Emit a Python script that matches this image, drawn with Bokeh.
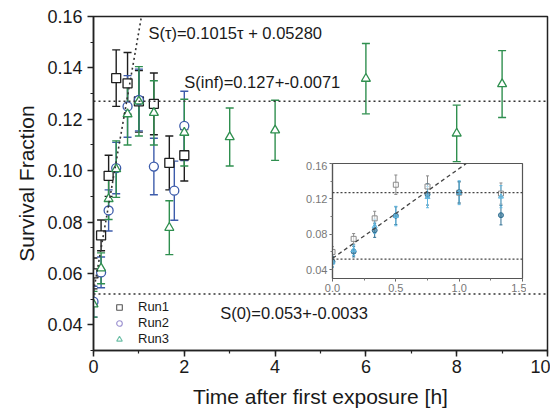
from bokeh.plotting import figure
from bokeh.models import (ColumnDataSource, Whisker, TeeHead, Span, Slope, Label,
                          Legend, LegendItem, SingleIntervalTicker, Range1d,
                          CustomJSTickFormatter)
from bokeh.embed import file_html
from bokeh.resources import INLINE

# ---------------- data ----------------
run1_t = [0.0, 0.167, 0.333, 0.5, 0.75, 1.0, 1.33, 1.67, 2.0]
run1_y = [0.060, 0.0748, 0.098, 0.136, 0.134, 0.127, 0.126, 0.103, 0.106]
run1_e = [0.006, 0.006, 0.008, 0.011, 0.012, 0.012, 0.012, 0.0105, 0.010]

run2_t = [0.0, 0.167, 0.333, 0.5, 0.75, 1.0, 1.33, 1.78, 2.0]
run2_y = [0.049, 0.0604, 0.0845, 0.101, 0.125, 0.1275, 0.1016, 0.0922, 0.1174]
run2_e = [0.006, 0.006, 0.008, 0.010, 0.012, 0.012, 0.011, 0.0115, 0.0135]

run3_t = [0.0, 0.167, 0.333, 0.5, 0.75, 1.0, 1.33, 1.67, 2.0, 3.0, 4.0, 6.0, 8.0, 9.0]
run3_y = [0.048, 0.062, 0.089, 0.1006, 0.122, 0.127, 0.1225, 0.0778, 0.1148,
          0.1131, 0.1157, 0.1358, 0.1145, 0.1337]
run3_e = [0.005, 0.006, 0.008, 0.011, 0.012, 0.0135, 0.0125, 0.0105, 0.013,
          0.0113, 0.0117, 0.0137, 0.011, 0.013]

fit_slope = 0.1015
fit_intercept = 0.0528
s_inf = 0.127
s_zero = 0.052

run_labels = ["Run1", "Run2", "Run3"]
text_fit = "S(\u03c4)=0.1015\u03c4 + 0.05280"
text_inf = "S(inf)=0.127+-0.0071"
text_zero = "S(0)=0.053+-0.0033"

FONT = "Liberation Sans"
C1, C2, C3 = "#1e1e1e", "#3d5cab", "#2f8f4f"
L1, L2, L3 = "#555555", "#9a8fcf", "#6fc0a8"
I1, I2, I3 = "#8a8a8a", "#2e6f92", "#5fb6e0"


def src(t, y, e):
    return ColumnDataSource(dict(t=t, y=y,
                                 lo=[a - b for a, b in zip(y, e)],
                                 hi=[a + b for a, b in zip(y, e)]))


runs = [(src(run1_t, run1_y, run1_e), C1, L1, I1, "square"),
        (src(run2_t, run2_y, run2_e), C2, L2, I2, "circle"),
        (src(run3_t, run3_y, run3_e), C3, L3, I3, "triangle")]

# ---------------- main figure ----------------
p = figure(width=550, height=416, x_range=Range1d(0, 10), y_range=Range1d(0.03, 0.16),
           output_backend="svg", toolbar_location=None,
           min_border_left=93, min_border_right=3, min_border_top=16, min_border_bottom=66)
p.grid.visible = False
p.outline_line_color = "#222222"
p.outline_line_width = 1.5
p.background_fill_color = "white"

p.xaxis.ticker = SingleIntervalTicker(interval=2, num_minor_ticks=2)
p.yaxis.ticker = SingleIntervalTicker(interval=0.02, num_minor_ticks=2)
p.yaxis.formatter = CustomJSTickFormatter(code="return tick.toFixed(2);")
p.xaxis.formatter = CustomJSTickFormatter(code="return tick.toFixed(0);")
for ax in (p.xaxis, p.yaxis):
    ax.axis_line_color = "#222222"
    ax.axis_line_width = 1.5
    ax.major_tick_line_color = "#222222"
    ax.major_tick_line_width = 1.5
    ax.minor_tick_line_color = "#222222"
    ax.minor_tick_line_width = 1.2
    ax.major_tick_in = 0
    ax.major_tick_out = 6
    ax.minor_tick_in = 0
    ax.minor_tick_out = 3
    ax.major_label_text_font = FONT
    ax.major_label_text_font_size = "18px"
    ax.major_label_text_color = "#1a1a1a"
    ax.axis_label_text_font = FONT
    ax.axis_label_text_font_size = "21px"
    ax.axis_label_text_font_style = "normal"
    ax.axis_label_text_color = "#1a1a1a"
p.xaxis.axis_label = "Time after first exposure [h]"
p.yaxis.axis_label = "Survival Fraction"
p.xaxis.major_label_standoff = 3
p.xaxis.axis_label_standoff = 9
p.yaxis.major_label_standoff = 5
p.yaxis.axis_label_standoff = 6

dot = dict(line_color="#333333", line_width=1.6, line_dash="2 3")
p.add_layout(Span(location=s_inf, dimension="width", **dot))
p.add_layout(Span(location=s_zero, dimension="width", **dot))
p.add_layout(Slope(gradient=fit_slope, y_intercept=fit_intercept, **dot))

for s, c, lc, ic, m in runs:
    w = Whisker(source=s, base="t", lower="lo", upper="hi", dimension="height",
                line_color=c, line_width=1.4,
                upper_head=TeeHead(size=8, line_color=c, line_width=1.4),
                lower_head=TeeHead(size=8, line_color=c, line_width=1.4))
    w.level = "underlay"
    p.add_layout(w)
    p.scatter("t", "y", source=s, marker=m, size=9, line_color=c, line_width=1.3,
              fill_color="white")

# legend-only glyphs (lighter, smaller markers as in the reference)
nan = float("nan")
leg_items = []
for (s, c, lc, ic, m), lab in zip(runs, run_labels):
    rr = p.scatter(x=[nan], y=[nan], marker=m, size=7, line_color=lc, line_width=1.1,
                   fill_color="white")
    leg_items.append(LegendItem(label=lab, renderers=[rr], index=0))
legend = Legend(items=leg_items, location=(19, 4), background_fill_alpha=0,
                border_line_alpha=0, label_text_font=FONT, label_text_font_size="13px",
                label_text_color="#1a1a1a", glyph_width=14, glyph_height=14,
                label_height=14, spacing=1, padding=0, margin=0, label_standoff=12)
p.add_layout(legend)

lab_kw = dict(text_font=FONT, text_font_size="16.5px", text_color="#1a1a1a",
              text_baseline="middle")
p.add_layout(Label(x=1.21, y=0.1534, text=text_fit, **lab_kw))
p.add_layout(Label(x=2.0, y=0.1347, text=text_inf, **lab_kw))
p.add_layout(Label(x=2.79, y=0.0447, text=text_zero, **lab_kw))

# ---------------- inset ----------------
ins = figure(width=224, height=137, x_range=Range1d(0, 1.5), y_range=Range1d(0.03, 0.16),
             output_backend="svg", toolbar_location=None,
             min_border_left=30, min_border_right=4, min_border_top=2, min_border_bottom=20)
ins.border_fill_alpha = 0
ins.background_fill_color = "white"
ins.grid.visible = False
ins.outline_line_color = "#555555"
ins.outline_line_width = 1.2
ins.xaxis.ticker = SingleIntervalTicker(interval=0.5, num_minor_ticks=2)
ins.yaxis.ticker = SingleIntervalTicker(interval=0.04, num_minor_ticks=2)
ins.xaxis.formatter = CustomJSTickFormatter(code="return tick.toFixed(1);")
ins.yaxis.formatter = CustomJSTickFormatter(code="return tick.toFixed(2);")
for ax in (ins.xaxis, ins.yaxis):
    ax.axis_line_color = "#555555"
    ax.axis_line_width = 1.2
    ax.major_tick_line_color = "#555555"
    ax.minor_tick_line_color = "#777777"
    ax.major_tick_in = 0
    ax.major_tick_out = 3
    ax.minor_tick_in = 0
    ax.minor_tick_out = 2
    ax.major_label_text_font = FONT
    ax.major_label_text_font_size = "11px"
    ax.major_label_text_color = "#777777"
    ax.major_label_standoff = 2
ins.styles = {"position": "absolute", "left": "302px", "top": "161px"}

idot = dict(line_color="#444444", line_width=1.3, line_dash="2 2")
ins.add_layout(Span(location=s_inf, dimension="width", **idot))
ins.add_layout(Span(location=s_zero, dimension="width", **idot))
ins.add_layout(Slope(gradient=fit_slope, y_intercept=fit_intercept,
                     line_color="#444444", line_width=1.3, line_dash="4 3"))
for s, c, lc, ic, m in runs:
    w = Whisker(source=s, base="t", lower="lo", upper="hi", dimension="height",
                line_color=ic, line_width=1,
                upper_head=TeeHead(size=3, line_color=ic, line_width=1),
                lower_head=TeeHead(size=3, line_color=ic, line_width=1))
    w.level = "underlay"
    ins.add_layout(w)
    ins.scatter("t", "y", source=s, marker=m, size=5, line_color=ic, line_width=1,
                fill_color=ic if m != "square" else "white", fill_alpha=0.6)

open("out.html", "w").write(file_html([p, ins], INLINE))
